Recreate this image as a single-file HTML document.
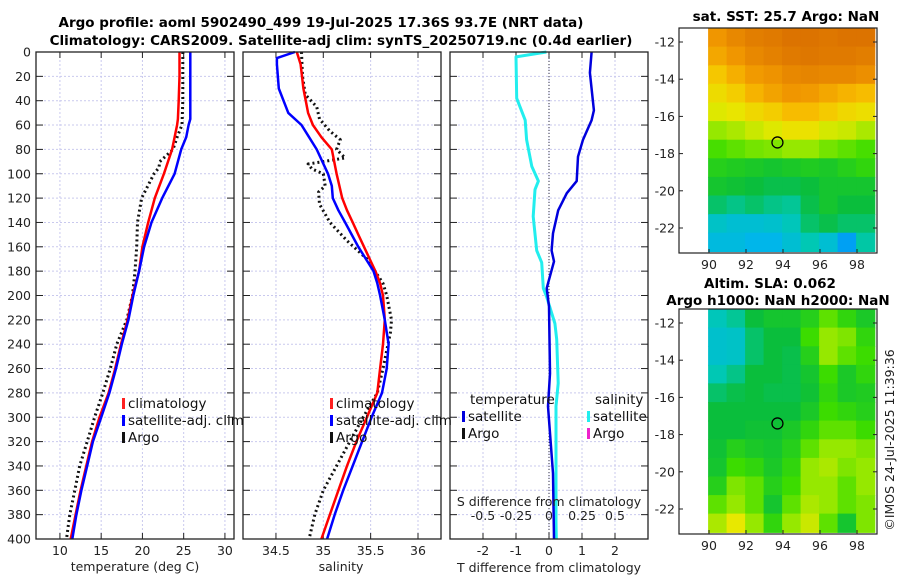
<!DOCTYPE html>
<html><head><meta charset="utf-8">
<style>
html,body{margin:0;padding:0;background:#fff;}
svg{display:block;font-family:"DejaVu Sans","Liberation Sans",sans-serif;}
.tk{font-size:12.5px;fill:#222;}
.tt{font-size:13.5px;font-weight:bold;fill:#000;}
.lg{font-size:13.5px;fill:#111;}
</style></head>
<body>
<svg id="chart" width="900" height="580" viewBox="0 0 900 580" xmlns="http://www.w3.org/2000/svg">
<g id="g"></g>
</svg>
<script>
// ---- data ----
const depthsTemp = [0,20,40,55,60,70,80,90,100,120,140,160,180,200,220,240,260,280,300,320,340,360,380,400];
const tempClim   = [24.5,24.5,24.4,24.3,24.2,23.9,23.6,23.1,22.6,21.5,20.7,20.0,19.6,18.8,18.2,17.4,16.7,15.9,14.8,13.9,13.2,12.5,11.9,11.3];
const tempSat    = [25.8,25.8,25.8,25.8,25.6,25.3,24.7,24.3,23.9,22.4,21.1,20.2,19.6,18.9,18.3,17.5,16.8,16.0,15.0,14.0,13.3,12.6,12.0,11.5];
const depthsArgoT = [0,40,60,70,80,90,95,100,120,140,160,180,200,220,240,260,280,300,320,340,360,380,400];
const tempArgo    = [24.9,24.9,24.8,24.2,23.7,22.1,22.0,21.4,19.9,19.4,19.3,19.1,18.8,18.1,16.9,16.1,15.2,14.2,13.3,12.4,11.8,11.2,10.8];

const depthsSal = [0,5,10,30,50,60,70,80,100,110,120,130,140,150,160,170,180,190,200,220,240,260,280,300,320,340,360,380,400];
const salClim   = [34.72,34.74,34.76,34.79,34.84,34.89,34.98,35.09,35.14,35.17,35.20,35.25,35.31,35.37,35.43,35.49,35.55,35.60,35.63,35.65,35.63,35.60,35.57,35.46,35.35,35.25,35.16,35.07,34.98];
const salSat    = [34.70,34.51,34.51,34.53,34.63,34.77,34.85,34.93,35.05,35.09,35.10,35.16,35.23,35.30,35.37,35.45,35.53,35.57,35.60,35.65,35.69,35.67,35.62,35.51,35.41,35.31,35.21,35.12,35.04];
const depthsArgoS = [0,20,35,45,55,65,72,80,87,90,92,96,100,110,115,125,140,155,170,190,200,220,230,260,280,300,320,340,360,380,400];
const salArgo     = [34.77,34.78,34.81,34.93,34.96,35.07,35.18,35.14,35.23,35.00,34.84,34.88,35.00,35.02,34.95,34.96,35.07,35.25,35.46,35.63,35.67,35.72,35.71,35.63,35.57,35.42,35.28,35.14,35.00,34.91,34.85];

const depthsTd = [0,17,48,56,72,86,106,116,130,149,163,172,194,209,264,291,346,400];
const tDiff    = [1.29,1.24,1.36,1.29,1.03,0.88,0.84,0.54,0.28,0.12,0.08,0.15,-0.07,0.0,0.03,-0.03,0.12,0.15];
const depthsSd = [0,4,38,56,72,94,106,113,135,163,173,194,201,223,236,272,291,386,400];
const sDiff    = [-0.02,-0.25,-0.245,-0.18,-0.17,-0.13,-0.08,-0.106,-0.12,-0.093,-0.055,-0.043,-0.018,0.045,0.058,0.07,0.053,0.053,0.055];

const depthTicks = [0,20,40,60,80,100,120,140,160,180,200,220,240,260,280,300,320,340,360,380,400];
const tempTicks = [10,15,20,25,30];
const salTicks = [34.5,35,35.5,36];
const salTickLabels = ["34.5","35","35.5","36"];
const tdTicks = [-2,-1,0,1,2];
const sdTicks = [-0.5,-0.25,0,0.25,0.5];
const sdTickLabels = ["-0.5","-0.25","0","0.25","0.5"];
const lonTicks = [90,92,94,96,98];
const latTicks = [-12,-14,-16,-18,-20,-22];
const argoLon = 93.7, argoLat = -17.4;
const sstGrid = [
[0.80,0.84,0.87,0.88,0.90,0.90,0.89,0.90,0.90],
[0.76,0.80,0.84,0.86,0.88,0.89,0.88,0.88,0.87],
[0.68,0.74,0.79,0.81,0.84,0.85,0.84,0.84,0.82],
[0.62,0.66,0.73,0.77,0.80,0.79,0.76,0.73,0.71],
[0.57,0.59,0.63,0.66,0.71,0.71,0.67,0.63,0.61],
[0.50,0.52,0.55,0.57,0.60,0.60,0.56,0.55,0.52],
[0.43,0.45,0.47,0.48,0.50,0.50,0.47,0.45,0.43],
[0.38,0.37,0.36,0.35,0.36,0.37,0.36,0.38,0.40],
[0.35,0.34,0.33,0.32,0.32,0.33,0.35,0.35,0.35],
[0.30,0.28,0.30,0.28,0.27,0.32,0.35,0.33,0.33],
[0.22,0.20,0.20,0.21,0.24,0.30,0.32,0.30,0.30],
[0.18,0.18,0.16,0.16,0.20,0.25,0.20,0.12,0.26]];
const slaGrid = [
[0.24,0.27,0.33,0.35,0.35,0.38,0.45,0.40,0.36],
[0.21,0.22,0.30,0.33,0.33,0.42,0.50,0.48,0.40],
[0.21,0.22,0.30,0.33,0.32,0.38,0.50,0.45,0.42],
[0.25,0.28,0.33,0.33,0.32,0.35,0.42,0.36,0.40],
[0.30,0.32,0.33,0.32,0.32,0.34,0.40,0.36,0.37],
[0.33,0.33,0.33,0.33,0.33,0.36,0.42,0.40,0.38],
[0.33,0.33,0.34,0.34,0.36,0.40,0.45,0.45,0.42],
[0.34,0.38,0.36,0.35,0.38,0.45,0.50,0.50,0.48],
[0.35,0.42,0.40,0.36,0.40,0.50,0.52,0.48,0.50],
[0.38,0.48,0.45,0.38,0.42,0.50,0.50,0.45,0.50],
[0.45,0.50,0.45,0.35,0.45,0.52,0.50,0.45,0.48],
[0.52,0.58,0.50,0.40,0.50,0.55,0.45,0.35,0.48]];

// ---- helpers ----
const NS="http://www.w3.org/2000/svg";
const root=document.getElementById('g');
function mk(tag,attrs,parent){const e=document.createElementNS(NS,tag);for(const k in attrs)e.setAttribute(k,attrs[k]);(parent||root).appendChild(e);return e;}
const Y0=52,Y1=539;
const yD=d=>Y0+(d/400)*(Y1-Y0);
const panels=[
 {x0:36,x1:234,min:7.1,max:31.1},
 {x0:243,x1:441,min:34.152,max:36.243},
 {x0:450,x1:648,min:-3,max:3}];
const sx=(p,v)=>p.x0+(v-p.min)/(p.max-p.min)*(p.x1-p.x0);
const sdx=v=>549+v*132;

function frameAndGrid(p,xt,name){
  const g=mk('g',{});
  
  
  xt.forEach(v=>{const l=mk('line',{x1:sx(p,v),x2:sx(p,v),y1:Y0,y2:Y1,stroke:'#c9c9ee','stroke-width':1,'stroke-dasharray':'2,2'},g);
    });
  depthTicks.forEach(d=>{const l=mk('line',{x1:p.x0,x2:p.x1,y1:yD(d),y2:yD(d),stroke:'#c9c9ee','stroke-width':1,'stroke-dasharray':'2,2'},g);
    
    mk('line',{x1:p.x0,x2:p.x0+7,y1:yD(d),y2:yD(d),stroke:'#222'},g);
    mk('line',{x1:p.x1-7,x2:p.x1,y1:yD(d),y2:yD(d),stroke:'#222'},g);});
  xt.forEach(v=>{mk('line',{x1:sx(p,v),x2:sx(p,v),y1:Y1,y2:Y1-6,stroke:'#222'},g);mk('line',{x1:sx(p,v),x2:sx(p,v),y1:Y0,y2:Y0+6,stroke:'#222'},g);});
  return g;
}
function line(p,vals,depths,color,w,dash,name,xfn){
  const pts=vals.map((v,i)=>(xfn?xfn(v):sx(p,v)).toFixed(1)+','+yD(depths[i]).toFixed(1)).join(' ');
  const e=mk('polyline',{points:pts,fill:'none',stroke:color,'stroke-width':w,'stroke-linejoin':'round'});
  if(dash)e.setAttribute('stroke-dasharray',dash);
  
  
}
function txt(x,y,s,cls,anchor,name){const t=mk('text',{x:x,y:y,class:cls,'text-anchor':anchor||'start'});t.textContent=s;
  return t;}

// panel 1
frameAndGrid(panels[0],tempTicks,'temperature-panel-grid');
line(panels[0],tempArgo,depthsArgoT,'#111',3,'2,3','argo-temperature-line');
line(panels[0],tempClim,depthsTemp,'#ff0000',2.5,null,'climatology-temperature-line');
line(panels[0],tempSat,depthsTemp,'#0000ff',2.5,null,'satellite-temperature-line');
depthTicks.forEach(d=>txt(31,yD(d)+4.5,String(d),'tk','end','y-tick-label'));
tempTicks.forEach(v=>txt(sx(panels[0],v),555,String(v),'tk','middle','x-tick-label'));
txt(135,571,'temperature (deg C)','tk','middle','x-axis-title-temperature');
// panel 2
frameAndGrid(panels[1],salTicks,'salinity-panel-grid');
line(panels[1],salArgo,depthsArgoS,'#111',3,'2,3','argo-salinity-line');
line(panels[1],salClim,depthsSal,'#ff0000',2.5,null,'climatology-salinity-line');
line(panels[1],salSat,depthsSal,'#0000ff',2.5,null,'satellite-salinity-line');
salTicks.forEach((v,i)=>txt(sx(panels[1],v),555,salTickLabels[i],'tk','middle','x-tick-label'));
txt(341,571,'salinity','tk','middle','x-axis-title-salinity');
// panel 3
frameAndGrid(panels[2],tdTicks,'difference-panel-grid');
mk('line',{x1:sx(panels[2],0),x2:sx(panels[2],0),y1:Y0,y2:Y1,stroke:'#334',"stroke-width":1,'stroke-dasharray':'1,2'});
line(panels[2],sDiff,depthsSd,'#22eeee',3,null,'salinity-difference-line',sdx);
line(panels[2],tDiff,depthsTd,'#0000dd',2.5,null,'temperature-difference-line');
tdTicks.forEach(v=>txt(sx(panels[2],v),555,String(v),'tk','middle','x-tick-label'));
txt(549,572,'T difference from climatology','tk','middle','x-axis-title-t-diff');
txt(549,506,'S difference from climatology','tk','middle','s-axis-title');
sdTicks.forEach((v,i)=>txt(sdx(v),520,sdTickLabels[i],'tk','middle','s-tick-label'));
panels.forEach(p=>{const r=mk('rect',{x:p.x0,y:Y0,width:p.x1-p.x0,height:Y1-Y0,fill:'none',stroke:'#222','stroke-width':1.3});
  });

// legends
function legItem(x,y,color,label,name){const r=mk('rect',{x:x,y:y-10,width:3,height:11,fill:color});
  
  txt(x+6,y,label,'lg','start',name);}
legItem(122,408,'#ff2020','climatology','legend-climatology');
legItem(122,425,'#0000ff','satellite-adj. clim','legend-satellite');
legItem(122,442,'#111','Argo','legend-argo');
legItem(330,408,'#ff2020','climatology','legend-climatology-sal');
legItem(330,425,'#0000ff','satellite-adj. clim','legend-satellite-sal');
legItem(330,442,'#111','Argo','legend-argo-sal');
txt(470,404,'temperature','lg','start','legend-temperature-header');
legItem(462,421,'#0000dd','satellite','legend-t-satellite');
legItem(462,438,'#111','Argo','legend-t-argo');
txt(595,404,'salinity','lg','start','legend-salinity-header');
legItem(587,421,'#22eeee','satellite','legend-s-satellite');
legItem(587,438,'#ee22cc','Argo','legend-s-argo');

// maps
const stops=[[0,[0,80,255]],[0.15,[0,180,240]],[0.25,[0,200,180]],[0.33,[10,190,60]],[0.42,[60,220,0]],[0.5,[150,232,0]],[0.58,[232,232,0]],[0.7,[248,192,0]],[0.8,[240,150,0]],[0.9,[220,115,0]],[1,[200,90,0]]];
function cmap(v){for(let i=1;i<stops.length;i++){if(v<=stops[i][0]){const a=stops[i-1],b=stops[i],t=(v-a[0])/(b[0]-a[0]);
  return 'rgb('+a[1].map((c,k)=>Math.round(c+(b[1][k]-c)*t)).join(',')+')';}}return 'rgb(200,90,0)';}
function drawMap(top,grid,name){
  const fx0=679,fx1=877,fy0=top,fy1=top+225;
  const lonX=lon=>709+(lon-90)*18.5;
  const latY=lat=>fy0+14+(-12-lat)*18.6;
  const g=mk('g',{});
  
  
  grid.forEach((row,r)=>row.forEach((v,c)=>{
    const x=lonX(89.95+c),y=latY(-11.25-r);
    const cell=mk('rect',{x:x.toFixed(1),y:y.toFixed(1),width:19.2,height:19.3,fill:cmap(v)},g);
    
    
  }));
  mk('rect',{x:877.5,y:fy0,width:2,height:fy1-fy0,fill:'#fff'},g);
  mk('rect',{x:fx0,y:fy1,width:200,height:8,fill:'#fff'},g);
  mk('rect',{x:fx0,y:fy0,width:fx1-fx0,height:fy1-fy0,fill:'none',stroke:'#222','stroke-width':1.2},g);
  lonTicks.forEach(l=>{mk('line',{x1:lonX(l),x2:lonX(l),y1:fy1,y2:fy1-4,stroke:'#222'},g);
    txt(lonX(l),fy1+16,String(l),'tk','middle','lon-tick-label');});
  latTicks.forEach(l=>{mk('line',{x1:fx0,x2:fx0+4,y1:latY(l),y2:latY(l),stroke:'#222'},g);mk('line',{x1:fx1,x2:fx1-4,y1:latY(l),y2:latY(l),stroke:'#222'},g);
    txt(fx0-4,latY(l)+4.5,String(l),'tk','end','lat-tick-label');});
  const c=mk('circle',{cx:lonX(argoLon),cy:latY(argoLat),r:5.5,fill:'none',stroke:'#000','stroke-width':1.3},g);
  
  
}
drawMap(28,sstGrid,'sst-map');
drawMap(309,slaGrid,'sla-map');

// titles (drawn last)
txt(321,27,'Argo profile: aoml 5902490_499 19-Jul-2025 17.36S 93.7E (NRT data)','tt','middle','title-line-1');
txt(341,45,'Climatology: CARS2009. Satellite-adj clim: synTS_20250719.nc (0.4d earlier)','tt','middle','title-line-2');
txt(786,21,'sat. SST: 25.7 Argo: NaN','tt','middle','sst-map-title');
txt(770,288,'Altim. SLA: 0.062','tt','middle','sla-map-title-1');
txt(778,305,'Argo h1000: NaN h2000: NaN','tt','middle','sla-map-title-2');
const cp=txt(0,0,'©IMOS 24-Jul-2025 11:39:36','tk','middle','copyright-timestamp');
cp.setAttribute('transform','translate(894,440) rotate(-90)');
</script>
</body></html>
